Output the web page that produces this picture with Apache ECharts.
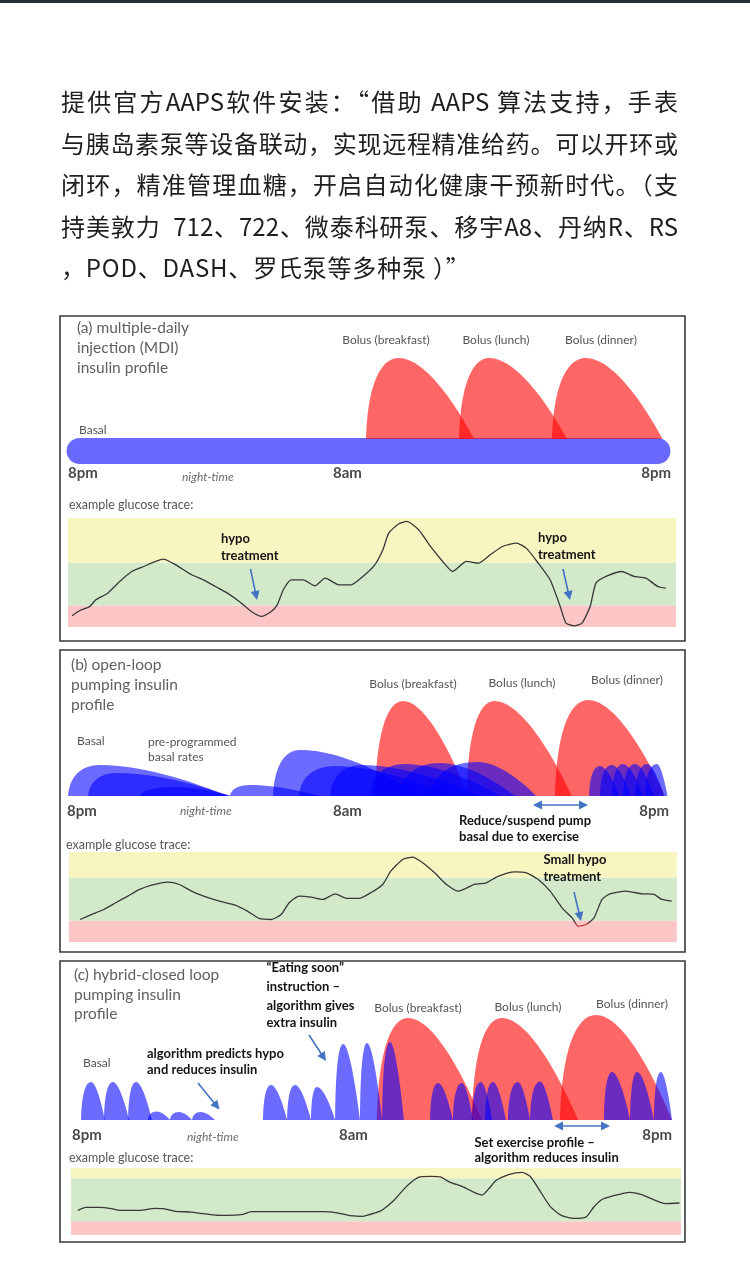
<!DOCTYPE html>
<html><head><meta charset="utf-8">
<script src="https://cdn.jsdelivr.net/npm/echarts@6/dist/echarts.min.js"></script>
<style>
html,body{margin:0;padding:0;background:#fff;}
#wrap{position:relative;width:750px;height:1269px;overflow:hidden;background:#fff;}
#chart{position:absolute;left:0;top:0;width:750px;height:1269px;}
#topbar{position:absolute;left:0;top:0;width:750px;height:3px;background:#2b2f36;}
#intro{position:absolute;left:61px;top:80px;width:617px;font-family:"Noto Sans CJK SC",sans-serif;font-size:24px;line-height:41.5px;color:#1e1e1e;}
#intro .j{text-align:justify;text-align-last:justify;}
#intro .l{text-align:left;letter-spacing:0.8px;}
</style></head>
<body>
<div id="wrap">
<div id="chart"></div>
<div id="topbar"></div>
<div id="intro">
<div class="j">提供官方AAPS软件安装：“借助 AAPS 算法支持，手表</div>
<div class="j">与胰岛素泵等设备联动，实现远程精准给药。可以开环或</div>
<div class="j">闭环，精准管理血糖，开启自动化健康干预新时代。（支</div>
<div class="j">持美敦力&nbsp;&nbsp;712、722、微泰科研泵、移宇A8、丹纳R、RS</div>
<div class="l">，POD、DASH、罗氏泵等多种泵 ）”</div>
</div>
</div>
<script>
// ---------------- DATA (hours after 8pm, insulin units, glucose mmol/L) ----------------
// each hump: [start hour, peak hour, end hour, peak level]
const mdiBasalLevel = 1.3;
const mdiBasalSpan = [0.5, 23.5];
const mdiBolusBase = 2.5;
const mdiBolus = [[11.9,13.2,16.2,10.6],[15.6,16.8,19.9,10.6],[19.3,20.65,23.7,10.6]];

const openBolus = [[12.26,13.37,15.96,9.5],[15.9,17.0,20.09,9.5],[19.42,20.74,23.8,9.6]];
const openBasal = [
 [0.04,1.31,6.37,3.1],[0.84,1.99,6.49,2.3],[2.91,4.30,6.57,0.9],[6.49,7.28,10.07,1.1],
 [8.20,9.27,14.05,4.6],[9.23,10.67,15.24,3.0],[10.47,11.74,16.44,3.1],[12.06,13.45,17.23,3.2],
 [13.25,14.85,17.83,3.3],[14.45,16.36,18.67,3.4],
 [20.78,21.21,21.97,3.0],[21.21,21.69,22.45,3.1],[21.69,22.13,22.93,3.2],[22.13,22.61,23.36,3.2],
 [22.61,23.09,23.76,3.2],[23.00,23.48,23.90,3.2]
];

const closedBolus = [[12.13,13.37,16.31,10.2],[15.91,17.1,20.14,10.2],[19.42,20.86,23.88,10.5]];
const closedBasal = [
 [0.36,0.76,1.31,3.8],[1.27,1.63,2.27,3.8],[2.23,2.55,3.18,3.8],
 [3.02,3.38,3.90,0.85],[3.90,4.26,4.78,0.8],[4.78,5.13,5.69,0.8],
 [7.60,7.92,8.56,3.5],[8.56,8.88,9.51,3.5],[9.51,9.75,10.47,3.3],
 [10.47,10.79,11.46,7.6],[11.46,11.74,12.34,7.7],[12.34,12.66,13.21,7.8],
 [14.25,14.57,15.16,3.7],[15.16,15.52,15.96,3.7],[15.92,16.28,16.72,3.8],[16.44,16.76,17.27,3.8],
 [17.35,17.75,18.23,3.8],[18.23,18.63,19.14,3.85],
 [21.17,21.49,22.21,4.8],[22.21,22.49,23.16,4.8],[23.16,23.44,23.88,4.8]
];

// glucose band boundaries: [axis min, hypo limit, high limit, axis max]
const bandsA = [1, 4, 10, 16.2];
const bandsB = [1, 4, 10, 13.55];
const bandsC = [2.1, 4, 10, 11.44];

const glucoseA = [[0.16,2.56],[0.47,3.30],[0.86,3.86],[1.10,4.79],[1.57,5.72],[2.04,7.35],[2.52,8.74],[2.99,9.44],[3.46,10.14],[3.77,10.47],[4.25,9.67],[4.88,8.28],[5.35,7.58],[5.82,6.65],[6.29,5.72],[6.76,4.56],[7.24,3.16],[7.63,2.47],[8.02,3.16],[8.26,4.09],[8.50,6.19],[8.81,7.58],[9.28,7.58],[9.75,6.74],[10.15,7.81],[10.70,6.88],[11.17,6.88],[11.64,8.05],[12.11,9.67],[12.43,11.77],[12.66,14.09],[13.06,15.40],[13.37,15.72],[13.84,14.56],[14.31,12.23],[14.79,10.14],[15.18,8.74],[15.73,10.14],[16.20,9.91],[16.67,11.07],[17.15,12.23],[17.70,12.70],[18.09,12.00],[18.56,9.91],[19.03,7.58],[19.43,3.86],[19.66,1.53],[19.98,1.16],[20.29,1.53],[20.61,3.86],[20.84,7.12],[21.24,8.05],[21.86,8.74],[22.34,8.05],[22.81,7.81],[23.28,6.65],[23.60,6.42]];
const glucoseB = [[0.44,4.14],[0.91,4.84],[1.38,5.53],[1.85,6.47],[2.33,7.40],[2.80,8.33],[3.27,8.93],[3.90,9.35],[4.37,9.02],[4.84,8.09],[5.32,7.40],[5.95,6.70],[6.57,6.14],[7.05,5.30],[7.52,4.28],[7.99,4.14],[8.38,4.84],[8.70,6.47],[9.09,7.40],[9.56,7.26],[10.03,6.93],[10.51,7.72],[10.98,7.07],[11.45,7.07],[11.92,7.86],[12.39,9.02],[12.71,10.88],[13.18,12.51],[13.57,12.84],[13.97,12.05],[14.44,10.65],[14.91,9.02],[15.38,8.09],[16.01,9.02],[16.48,9.26],[16.96,10.19],[17.59,10.79],[18.06,10.65],[18.53,9.72],[19.00,8.09],[19.47,5.77],[19.87,4.37],[20.10,3.21],[20.42,3.44],[20.73,4.37],[21.05,6.93],[21.36,7.72],[21.99,8.09],[22.62,7.72],[23.10,7.63],[23.41,6.93],[23.80,6.70]];
const glucoseC = [[0.27,5.53],[0.58,5.95],[1.13,5.95],[1.60,5.77],[1.91,5.53],[2.69,5.53],[3.32,5.81],[3.64,5.77],[4.11,5.40],[4.73,5.30],[5.20,5.07],[5.67,4.88],[6.15,4.84],[6.77,4.98],[7.09,5.35],[7.71,5.35],[8.97,5.35],[9.91,5.35],[10.53,5.16],[11.00,4.79],[11.47,4.70],[11.95,5.16],[12.26,5.63],[12.73,7.02],[13.20,8.88],[13.67,10.14],[14.14,10.28],[14.53,10.19],[14.92,9.44],[15.39,8.88],[15.86,8.05],[16.18,7.67],[16.41,8.42],[16.73,9.72],[17.28,10.60],[17.75,10.84],[18.06,10.28],[18.38,8.65],[18.85,6.09],[19.31,4.79],[19.78,4.42],[20.26,4.60],[20.57,6.00],[20.88,7.02],[21.35,7.58],[21.98,8.05],[22.45,7.72],[22.92,7.02],[23.39,6.47],[23.94,6.56]];

// ---------------- STYLES ----------------
const BLUE = 'rgba(0,0,255,0.58)';
const RED = 'rgba(255,0,0,0.6)';
const BAND_COLORS = ['#fcc6c6', '#d2e9ca', '#f9f5c0'];
const TRACE = '#383838', HYPO_TRACE = '#b83a3a';
const FONT = 'Lato';

const chart = echarts.init(document.getElementById('chart'), null, {renderer:'canvas'});

const grids = [
  {left:67, top:330, width:603, height:134},   // 0 insulin a
  {left:68, top:518, width:608, height:109},   // 1 glucose a
  {left:67, top:676, width:603, height:120},   // 2 insulin b
  {left:68.8, top:852, width:608, height:90},  // 3 glucose b
  {left:72, top:1000, width:603, height:120},  // 4 insulin c
  {left:71, top:1168, width:610, height:67}    // 5 glucose c
];
const yRanges = [[0,13.4],[bandsA[0],bandsA[3]],[0,12],[bandsB[0],bandsB[3]],[0,12],[bandsC[0],bandsC[3]]];

function humpRender(base, color){
  return function(params, api){
    const x0=api.value(0), xp=api.value(1), x1=api.value(2), top=api.value(3);
    const a=api.coord([x0,base]), p=api.coord([xp,top]), b=api.coord([x1,base]);
    const rw=p[0]-a[0], fw=b[0]-p[0], h=a[1]-p[1];
    const d='M'+a[0]+','+a[1]+
      ' C'+(a[0]+0.04*rw)+','+(a[1]-0.62*h)+' '+(p[0]-0.6*rw)+','+p[1]+' '+p[0]+','+p[1]+
      ' C'+(p[0]+0.38*fw)+','+p[1]+' '+(p[0]+0.82*fw)+','+(b[1]-0.32*h)+' '+b[0]+','+b[1]+' Z';
    return {type:'path', shape:{pathData:d}, style:{fill:color, stroke:null}};
  };
}
function humps(data, gi, base, color){
  return {type:'custom', xAxisIndex:gi, yAxisIndex:gi, data:data, clip:false, silent:true,
    renderItem:humpRender(base,color), animation:false, z:2};
}
function bands(b, gi){
  const data = [[b[0],b[1],0],[b[1],b[2],1],[b[2],b[3],2]];
  return {type:'custom', xAxisIndex:gi, yAxisIndex:gi, data:data, silent:true, animation:false, z:1, clip:false,
    renderItem:function(params, api){
      const p0 = api.coord([0, api.value(1)]), p1 = api.coord([24, api.value(0)]);
      return {type:'rect', shape:{x:p0[0], y:p0[1], width:p1[0]-p0[0], height:p1[1]-p0[1]},
        style:{fill:BAND_COLORS[api.value(2)]}};
    }};
}
function trace(data, gi, color){
  return {type:'line', xAxisIndex:gi, yAxisIndex:gi, data:data, showSymbol:false, silent:true,
    smooth:0.2, lineStyle:{color:color||TRACE, width:1.3}, animation:false, z:5};
}
// colour the part of trace B that dips below the hypo limit
function hypoGradient(data, limit){
  const ys = data.map(d=>d[1]);
  const mx = Math.max.apply(null, ys), mn = Math.min.apply(null, ys);
  const t = Math.min(1, Math.max(0, (mx - limit)/(mx - mn)));
  return new echarts.graphic.LinearGradient(0,0,0,1,[
    {offset:0,color:TRACE},{offset:t,color:TRACE},{offset:t,color:HYPO_TRACE},{offset:1,color:HYPO_TRACE}]);
}

const series = [
  {type:'line', xAxisIndex:0, yAxisIndex:0, data:mdiBasalSpan.map(h=>[h,mdiBasalLevel]), showSymbol:false, silent:true,
    lineStyle:{color:'rgba(0,0,255,0.59)', width:26, cap:'round'}, animation:false, z:1},
  humps(mdiBolus, 0, mdiBolusBase, RED),
  bands(bandsA, 1),
  trace(glucoseA, 1),
  humps(openBolus, 2, 0, RED),
  humps(openBasal, 2, 0, BLUE),
  bands(bandsB, 3),
  trace(glucoseB, 3, hypoGradient(glucoseB, bandsB[1])),
  humps(closedBolus, 4, 0, RED),
  humps(closedBasal, 4, 0, BLUE),
  bands(bandsC, 5),
  trace(glucoseC, 5)
];

// ---------------- TEXT & ANNOTATIONS ----------------
const G = [];
function T(text, x, y, font, fill, align){
  G.push({type:'text', x:x, y:y, z:100, silent:true,
    style:{text:text, font:font, fill:fill, textAlign:align||'left', align:align||'left',
      textVerticalAlign:'middle', verticalAlign:'middle'}});
}
function frame(x,y,w,h){
  G.push({type:'rect', z:90, silent:true, shape:{x:x,y:y,width:w,height:h},
    style:{fill:'none', stroke:'#3a3a3a', lineWidth:1.6}});
}
function arrow(x1,y1,x2,y2,color,both){
  const ang=Math.atan2(y2-y1,x2-x1), L=9, W=4.5, c=Math.cos(ang), s=Math.sin(ang);
  const head=(x,y,dir)=>{
    const cc=c*dir, ss=s*dir;
    return [[x,y],[x-L*cc+W*ss, y-L*ss-W*cc],[x-L*cc-W*ss, y-L*ss+W*cc]];
  };
  const sx = both ? x1+L*c*0.8 : x1, sy = both ? y1+L*s*0.8 : y1;
  G.push({type:'line', z:100, silent:true, shape:{x1:sx,y1:sy,x2:x2-L*c*0.8,y2:y2-L*s*0.8},
    style:{stroke:color, lineWidth:1.6}});
  G.push({type:'polygon', z:100, silent:true, shape:{points:head(x2,y2,1)}, style:{fill:color}});
  if(both) G.push({type:'polygon', z:100, silent:true, shape:{points:head(x1,y1,-1)}, style:{fill:color}});
}

const titleF = '15.5px '+FONT, titleC = '#606060';
const smallF = '12px '+FONT, smallC = '#555555';
const axisF = 'bold 15px '+FONT, axisC = '#4a4a4a';
const nightF = 'italic 12px '+FONT, nightC = '#6a6a6a';
const glF = '12.5px '+FONT;
const noteF = 'bold 13px '+FONT, noteC = '#141414';
const ARROW = '#4472c4';

frame(60,316,625,325);
frame(60,650,625,302);
frame(60,961,625,281);

// panel a
T('(a) multiple-daily',77,328,titleF,titleC);
T('injection (MDI)',77,348,titleF,titleC);
T('insulin profile',77,368,titleF,titleC);
T('Basal',79,430,smallF,smallC);
T('Bolus (breakfast)',386,340,smallF,smallC,'center');
T('Bolus (lunch)',496,340,smallF,smallC,'center');
T('Bolus (dinner)',601,340,smallF,smallC,'center');
T('8pm',68,473,axisF,axisC);
T('night-time',182,477,nightF,nightC);
T('8am',333,473,axisF,axisC);
T('8pm',671,473,axisF,axisC,'right');
T('example glucose trace:',69,505,glF,smallC);
T('hypo',221,539,noteF,noteC);
T('treatment',221,556,noteF,noteC);
T('hypo',538,538,noteF,noteC);
T('treatment',538,555,noteF,noteC);
arrow(250.5,569,257,600,ARROW,false);
arrow(563,569,570,600,ARROW,false);

// panel b
T('(b) open-loop',71,665,titleF,titleC);
T('pumping insulin',71,685,titleF,titleC);
T('profile',71,705,titleF,titleC);
T('Basal',77,741,smallF,smallC);
T('pre-programmed',148,742,smallF,smallC);
T('basal rates',148,757,smallF,smallC);
T('Bolus (breakfast)',413,684,smallF,smallC,'center');
T('Bolus (lunch)',522,683,smallF,smallC,'center');
T('Bolus (dinner)',627,680,smallF,smallC,'center');
T('8pm',67,811,axisF,axisC);
T('night-time',180,811,nightF,nightC);
T('8am',333,811,axisF,axisC);
T('8pm',669,811,axisF,axisC,'right');
arrow(533,805,588,805,ARROW,true);
T('Reduce/suspend pump',459,821,noteF,noteC);
T('basal due to exercise',459,837,noteF,noteC);
T('example glucose trace:',66,845,glF,smallC);
T('Small hypo',543.5,860,noteF,noteC);
T('treatment',543.5,877,noteF,noteC);
arrow(574,892,581,921,ARROW,false);

// panel c
T('(c) hybrid-closed loop',74,975,titleF,titleC);
T('pumping insulin',74,995,titleF,titleC);
T('profile',74,1014,titleF,titleC);
T('\u201cEating soon\u201d',266.5,968,noteF,noteC);
T('instruction \u2013',266.5,987,noteF,noteC);
T('algorithm gives',266.5,1006,noteF,noteC);
T('extra insulin',266.5,1023,noteF,noteC);
arrow(309,1035,326,1061,ARROW,false);
T('Bolus (breakfast)',418,1008,smallF,smallC,'center');
T('Bolus (lunch)',528,1007,smallF,smallC,'center');
T('Bolus (dinner)',632,1004,smallF,smallC,'center');
T('Basal',83,1063,smallF,smallC);
T('algorithm predicts hypo',147,1054,noteF,noteC);
T('and reduces insulin',147,1070,noteF,noteC);
arrow(198,1083,219.5,1109.5,ARROW,false);
T('8pm',72,1135,axisF,axisC);
T('night-time',187,1137,nightF,nightC);
T('8am',339,1135,axisF,axisC);
T('8pm',672,1135,axisF,axisC,'right');
arrow(554,1126,610,1126,ARROW,true);
T('Set exercise profile \u2013',474.5,1143,noteF,noteC);
T('algorithm reduces insulin',474.5,1158,noteF,noteC);
T('example glucose trace:',69,1158,glF,smallC);

chart.setOption({
  animation:false,
  backgroundColor:'transparent',
  grid:grids,
  xAxis:grids.map((g,i)=>({type:'value', gridIndex:i, min:0, max:24, show:false})),
  yAxis:grids.map((g,i)=>({type:'value', gridIndex:i, min:yRanges[i][0], max:yRanges[i][1], show:false})),
  series:series,
  graphic:{elements:G}
});
</script>
</body></html>
